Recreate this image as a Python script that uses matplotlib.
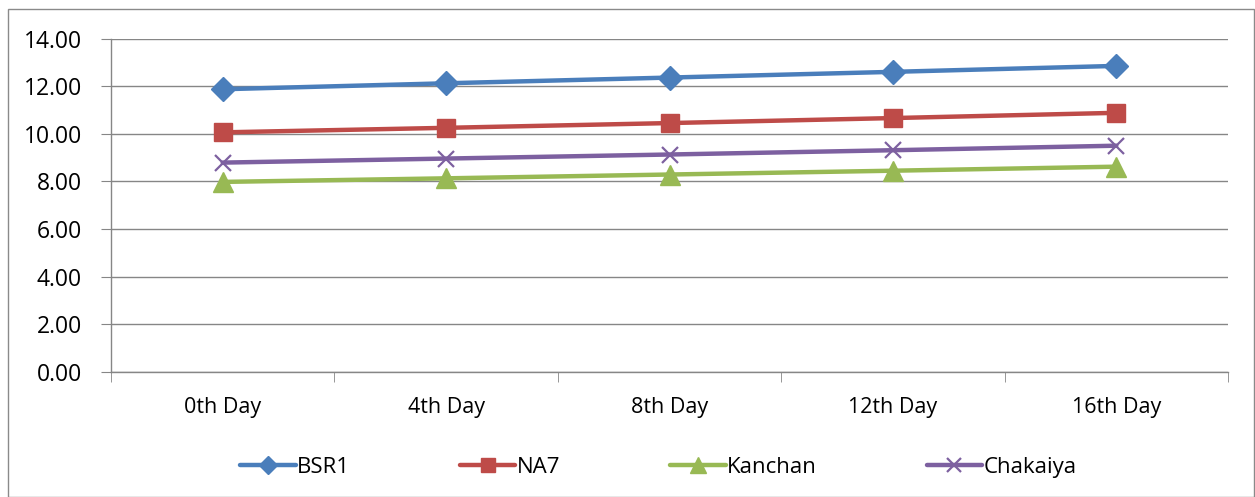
import matplotlib
matplotlib.use("Agg")
import matplotlib.pyplot as plt
from matplotlib.patches import Rectangle
from matplotlib.ticker import FixedLocator

categories = ["0th Day", "4th Day", "8th Day", "12th Day", "16th Day"]
bsr1 = [11.87, 12.12, 12.36, 12.60, 12.85]
na7 = [10.06, 10.25, 10.45, 10.66, 10.88]
kanchan = [7.98, 8.13, 8.29, 8.45, 8.62]
chakaiya = [8.79, 8.96, 9.13, 9.31, 9.50]
yticks = [0, 2, 4, 6, 8, 10, 12, 14]

plt.rcParams['font.family'] = ['Open Sans', 'DejaVu Sans']

W, H = 1255, 497
fig = plt.figure(figsize=(W/100, H/100), dpi=100)
fig.patches.append(Rectangle((8/W, 0.5/H), (W-9)/W, (H-9)/H, transform=fig.transFigure,
                             fill=False, edgecolor='#8a8a8a', lw=1.0))
ax = fig.add_axes([111/W, 1-372/H, (1228-111)/W, (372-38.5)/H])

x = list(range(len(categories)))
series = [("BSR1", bsr1, '#4A7EBB', 'D', 12),
          ("NA7", na7, '#BE4B48', 's', 13),
          ("Kanchan", kanchan, '#98B954', '^', 14),
          ("Chakaiya", chakaiya, '#7D60A0', 'x', 12)]
for name, vals, c, m, ms in series:
    kw = dict(color=c, lw=3.2, marker=m, markersize=ms, label=name, solid_capstyle='round')
    if m == 'x':
        kw.update(markeredgewidth=1.6)
    else:
        kw.update(markeredgecolor=c)
    ax.plot(x, vals, **kw)

ax.set_xlim(-0.5, len(categories) - 0.5)
ax.set_ylim(0, 14)
ax.set_yticks(yticks)
ax.set_yticklabels([f"{v:.2f}" for v in yticks])
ax.set_xticks(x)
ax.set_xticklabels(categories)
ax.xaxis.set_minor_locator(FixedLocator([i - 0.5 for i in range(len(categories) + 1)]))
ax.tick_params(axis='x', which='major', length=0, pad=18, labelsize=15.5)
ax.tick_params(axis='x', which='minor', length=7, color='#868686', direction='out')
ax.tick_params(axis='y', length=7, color='#868686', direction='out', labelsize=16.5, pad=14)
ax.grid(axis='y', color='#868686', lw=1.0)
ax.set_axisbelow(True)
for s in ['top', 'right']:
    ax.spines[s].set_visible(False)
for s in ['left', 'bottom']:
    ax.spines[s].set_color('#868686')
    ax.spines[s].set_linewidth(1.0)

leg = ax.legend(loc='center', bbox_to_anchor=(0.49, (1 - 467/H - (1-372/H)) / ((372-38.5)/H)),
                ncol=4, frameon=False, fontsize=16, handlelength=2.5, handletextpad=0.05,
                columnspacing=4.95, markerscale=0.8)

fig.savefig("out.png", dpi=100)
